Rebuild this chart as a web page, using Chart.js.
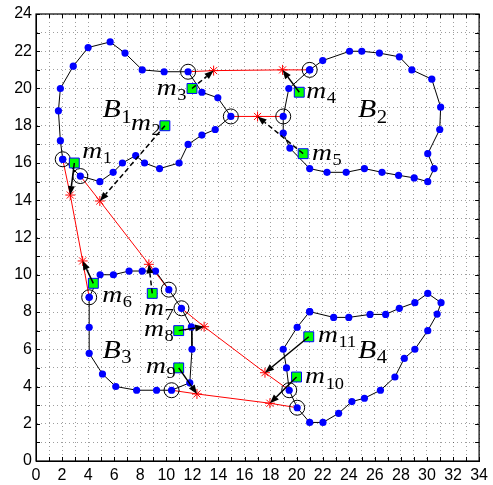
<!DOCTYPE html>
<html>
<head>
<meta charset="utf-8">
<script src="https://cdn.jsdelivr.net/npm/chart.js@4/dist/chart.umd.min.js"></script>
<style>
body { margin: 0; background: #fff; }
#wrap { width: 493px; height: 485px; }
</style>
</head>
<body>
<div id="wrap"><canvas id="myChart" width="493" height="485"></canvas></div>
<script>
// boundary loops (closed when drawn)
var b1 = [[2.05,16.2],[1.87,17.2],[1.72,18.8],[1.87,20.0],[2.86,21.2],[4.0,22.2],[5.69,22.5],[6.83,21.9],[8.15,21.0],[9.83,20.9],[11.67,20.9],[12.73,19.8],[13.95,19.5],[14.95,18.5],[13.75,17.8],[12.73,17.5],[11.67,17.0],[10.98,16.0],[9.48,15.7],[8.33,16.0],[7.65,16.4],[6.63,16.0],[5.92,15.5],[4.9,15.0],[3.4,15.3]];
var b2 = [[21.0,21.0],[22.0,21.5],[24.06,22.0],[25.0,22.0],[26.35,21.9],[27.88,21.7],[28.84,21.0],[30.37,20.5],[31.05,19.0],[30.98,17.8],[30.06,16.5],[30.55,15.7],[30.06,15.0],[29.02,15.2],[27.82,15.34],[26.55,15.5],[25.2,15.7],[23.8,15.5],[22.33,15.5],[21.0,15.7],[19.48,16.8],[18.97,17.6],[18.97,18.5],[19.4,20.0]];
var b3 = [[4.08,8.79],[4.92,10.0],[5.94,10.0],[7.14,10.2],[8.15,10.2],[9.17,10.2],[10.19,9.2],[11.16,8.2],[11.92,7.2],[11.97,6.0],[11.8,4.2],[10.4,3.8],[9.25,3.8],[7.72,3.8],[6.12,4.0],[5.1,4.67],[4.08,5.78],[4.08,7.18]];
var b4 = [[21.0,8.02],[22.84,7.71],[24.0,7.71],[25.63,7.87],[26.83,7.87],[27.88,8.2],[29.07,8.5],[30.06,9.0],[31.08,8.5],[30.78,7.89],[30.06,7.0],[29.07,6.0],[28.26,5.51],[27.54,4.51],[26.43,3.8],[25.2,3.37],[24.24,3.19],[23.22,2.56],[22.02,2.07],[21.0,2.07],[20.04,2.86],[19.43,3.8],[19.22,5.0],[18.97,6.0],[20.04,7.18]];

// red routes between boundaries
var routes = [
    [[2.05,16.2],[2.63,14.28],[3.58,10.74],[4.08,8.79]],
    [[3.4,15.3],[4.9,13.96],[8.66,10.56],[10.19,9.2]],
    [[11.16,8.2],[12.9,7.21],[17.57,4.74],[19.43,3.8]],
    [[10.4,3.8],[12.35,3.6],[17.95,3.1],[20.04,2.86]],
    [[11.67,20.9],[13.63,20.96],[18.92,21.0],[21.0,21.0]],
    [[14.95,18.5],[17.0,18.5],[18.97,18.5]]
];

// markers m1..m11 and where each one is sent
var markers = [[2.94,16.0],[9.89,18.0],[11.97,20.0],[20.2,19.8],[20.5,16.5],[4.4,9.54],[8.92,9.0],[10.95,7.0],[10.95,5.0],[19.99,4.51],[20.93,6.67]];
var targets = [[2.63,14.28],[4.9,13.96],[13.63,20.96],[18.92,21.0],[17.0,18.5],[3.58,10.74],[8.66,10.56],[12.9,7.21],[12.35,3.6],[17.95,3.1],[17.57,4.74]];
var dashed = [false,true,true,false,true,false,true,false,false,false,false];

// text labels: [main, subscript, x, y]
var boundaryLabels = [['B','1',5.1,18.45],['B','2',24.7,18.45],['B','3',5.1,5.55],['B','4',24.7,5.55]];
var markerLabels = [['m','1',3.55,16.27],['m','2',7.29,17.77],['m','3',9.27,19.65],['m','4',20.73,19.49],['m','5',21.18,16.16],['m','6',5.08,8.55],['m','7',8.28,7.84],['m','8',8.28,6.71],['m','9',8.44,4.74],['m','10',20.65,4.17],['m','11',21.64,6.41]];

var xMax = 34, yMax = 24;

function pts(arr) {
    return arr.map(function (p) { return { x: p[0], y: p[1] }; });
}

var datasets = [];

// boundaries
[b1, b2, b3, b4].forEach(function (b) {
    datasets.push({
        data: pts(b.concat([b[0]])),
        showLine: true,
        borderColor: "black",
        borderWidth: 1,
        pointRadius: 3.6,
        pointBackgroundColor: "#0000ff",
        pointBorderWidth: 0,
        order: 4
    });
});

// red routes
routes.forEach(function (r) {
    datasets.push({
        data: pts(r),
        showLine: true,
        borderColor: "#ff0000",
        borderWidth: 1,
        pointRadius: 0,
        order: 5
    });
});

// circled hub points = ends of routes
var hubs = [];
routes.forEach(function (r) { hubs.push(r[0]); hubs.push(r[r.length - 1]); });
datasets.push({
    data: pts(hubs),
    showLine: false,
    pointStyle: "circle",
    pointRadius: 7.5,
    pointBackgroundColor: "rgba(0,0,0,0)",
    pointBorderColor: "black",
    pointBorderWidth: 1,
    order: 3
});

// red stars
datasets.push({
    data: pts(targets),
    showLine: false,
    pointStyle: "star",
    pointRadius: 5,
    pointBorderColor: "#ff0000",
    pointBorderWidth: 1,
    order: 2
});

// green squares
datasets.push({
    data: pts(markers),
    showLine: false,
    pointStyle: "rect",
    pointRadius: 7,
    pointBackgroundColor: "#00ff00",
    pointBorderColor: "#0000ff",
    pointBorderWidth: 1,
    order: 1
});

function drawArrow(ctx, x0, y0, x1, y1, isDashed) {
    var ang = Math.atan2(y1 - y0, x1 - x0);
    var len = 9, half = 3.5;
    var bx = x1 - len * Math.cos(ang), by = y1 - len * Math.sin(ang);
    ctx.save();
    ctx.strokeStyle = "black";
    ctx.fillStyle = "black";
    ctx.lineWidth = 1.5;
    ctx.setLineDash(isDashed ? [5, 3] : []);
    ctx.beginPath();
    ctx.moveTo(x0, y0);
    ctx.lineTo(bx, by);
    ctx.stroke();
    ctx.setLineDash([]);
    ctx.beginPath();
    ctx.moveTo(x1, y1);
    ctx.lineTo(bx + half * Math.sin(ang), by - half * Math.cos(ang));
    ctx.lineTo(bx - half * Math.sin(ang), by + half * Math.cos(ang));
    ctx.closePath();
    ctx.fill();
    ctx.restore();
}

// italic letter + upright subscript, stretched a little to look like math italic
function drawLabel(ctx, lab, px, py, size) {
    ctx.save();
    ctx.translate(px, py);
    ctx.scale(1.15, 1);
    ctx.fillStyle = "black";
    ctx.textAlign = "left";
    ctx.textBaseline = "alphabetic";
    ctx.font = "italic " + size + "px 'Liberation Serif', serif";
    ctx.fillText(lab[0], 0, 0);
    var w = ctx.measureText(lab[0]).width;
    ctx.font = Math.round(size * 0.68) + "px 'Liberation Serif', serif";
    ctx.fillText(lab[1], w + 0.5, size * 0.22);
    ctx.restore();
}

var notesPlugin = {
    id: "notes",
    afterDatasetsDraw: function (chart) {
        var ctx = chart.ctx;
        var xs = chart.scales.x, ys = chart.scales.y;
        for (var i = 0; i < markers.length; i++) {
            drawArrow(ctx,
                xs.getPixelForValue(markers[i][0]), ys.getPixelForValue(markers[i][1]),
                xs.getPixelForValue(targets[i][0]), ys.getPixelForValue(targets[i][1]),
                dashed[i]);
        }
        boundaryLabels.forEach(function (l) {
            drawLabel(ctx, l, xs.getPixelForValue(l[2]), ys.getPixelForValue(l[3]), 26);
        });
        markerLabels.forEach(function (l) {
            drawLabel(ctx, l, xs.getPixelForValue(l[2]), ys.getPixelForValue(l[3]), 24);
        });
    }
};

// box with inward ticks on all sides
var framePlugin = {
    id: "frame",
    afterDraw: function (chart) {
        var ctx = chart.ctx, a = chart.chartArea;
        var xs = chart.scales.x, ys = chart.scales.y;
        ctx.save();
        ctx.strokeStyle = "black";
        ctx.lineWidth = 1;
        ctx.beginPath();
        for (var i = 0; i <= xMax; i++) {
            var px = Math.round(xs.getPixelForValue(i)) + 0.5;
            ctx.moveTo(px, a.bottom); ctx.lineTo(px, a.bottom - 4);
            ctx.moveTo(px, a.top); ctx.lineTo(px, a.top + 4);
        }
        for (var j = 0; j <= yMax; j++) {
            var py = Math.round(ys.getPixelForValue(j)) + 0.5;
            ctx.moveTo(a.left, py); ctx.lineTo(a.left + 4, py);
            ctx.moveTo(a.right, py); ctx.lineTo(a.right - 4, py);
        }
        ctx.stroke();
        ctx.lineWidth = 1.2;
        ctx.strokeRect(a.left, a.top, a.right - a.left, a.bottom - a.top);
        ctx.restore();
    }
};

var chart = new Chart("myChart", {
    type: "scatter",
    data: { datasets: datasets },
    options: {
        responsive: false,
        animation: false,
        layout: { padding: { top: 14, right: 11, left: 0, bottom: 0 } },
        plugins: {
            legend: { display: false },
            tooltip: { enabled: false }
        },
        scales: {
            x: {
                type: "linear",
                min: 0,
                max: xMax,
                afterFit: function (s) { s.height = 24; },
                grid: { color: "rgba(0,0,0,0.38)", lineWidth: 1, drawTicks: false },
                border: { display: true, color: "black", dash: [1, 3] },
                ticks: {
                    stepSize: 1,
                    autoSkip: false,
                    maxRotation: 0,
                    padding: 5,
                    color: "black",
                    font: { family: "'Liberation Sans', Arial, sans-serif", size: 16 },
                    callback: function (v) { return v % 2 === 0 ? v : ""; }
                }
            },
            y: {
                type: "linear",
                min: 0,
                max: yMax,
                afterFit: function (s) { s.width = 36; },
                grid: { color: "rgba(0,0,0,0.38)", lineWidth: 1, drawTicks: false },
                border: { display: true, color: "black", dash: [1, 3] },
                ticks: {
                    stepSize: 1,
                    autoSkip: false,
                    padding: 4,
                    color: "black",
                    font: { family: "'Liberation Sans', Arial, sans-serif", size: 16 },
                    callback: function (v) { return v % 2 === 0 ? v : ""; }
                }
            }
        }
    },
    plugins: [notesPlugin, framePlugin]
});
</script>
</body>
</html>
